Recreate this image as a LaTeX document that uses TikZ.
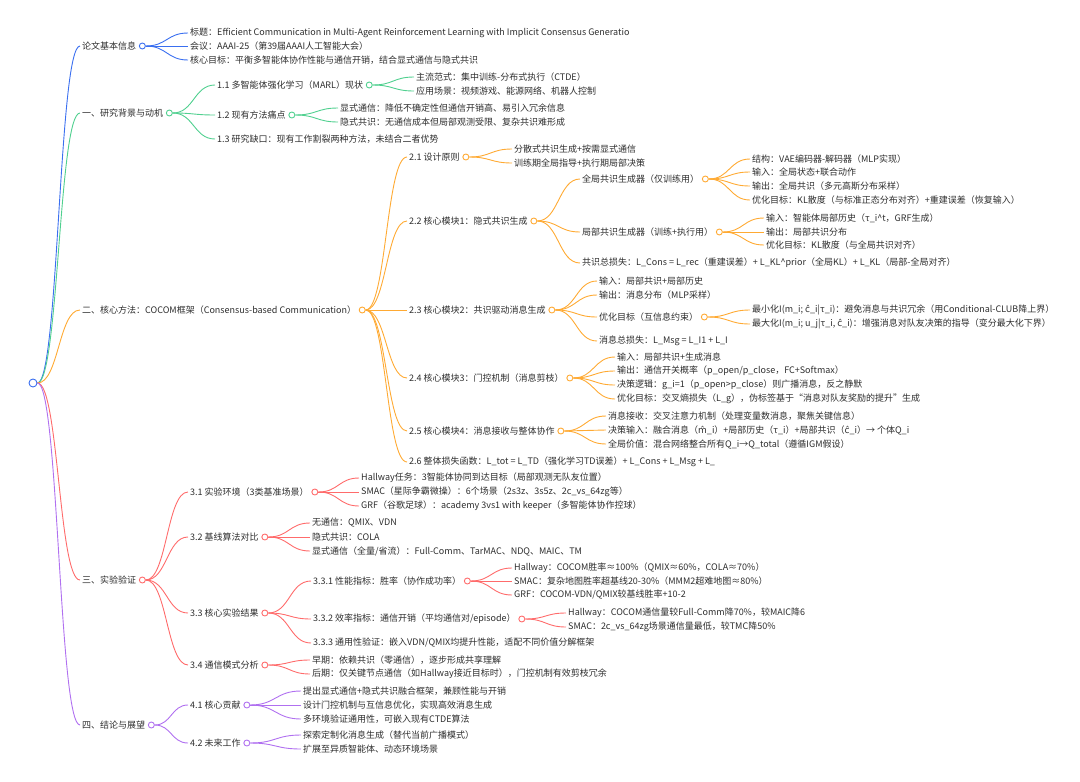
\documentclass[tikz,border=0pt]{standalone}
\usepackage{fontspec}
\setmainfont{Noto Sans CJK SC}
\newfontfamily\djv{DejaVu Sans}
\usepackage{tikz}
\usetikzlibrary{calc}
\usetikzlibrary{positioning}

\definecolor{mblue}{RGB}{58,111,240}
\definecolor{mgreen}{RGB}{80,208,143}
\definecolor{morange}{RGB}{255,170,51}
\definecolor{mred}{RGB}{255,107,107}
\definecolor{mpurple}{RGB}{176,112,240}
\definecolor{mtext}{RGB}{45,45,45}

\newcommand{\chat}{{\djv ĉ}}
\newcommand{\mhat}{{\djv m̂}}

\tikzset{
  txt/.style={anchor=west, inner xsep=2pt, inner ysep=1pt, text=mtext},
  dot/.style={circle, draw=#1, fill=white, minimum size=6pt, inner sep=0pt, line width=0.9pt},
  br/.style={to path={let \p1=(\tikztostart), \p2=(\tikztotarget) in
      .. controls ({(\x1+\x2)/2},\y1) and ({(\x1+\x2)/2},\y2) .. (\tikztotarget)}}
}

\begin{document}
\begin{tikzpicture}[x=1pt, y=-1pt, font=\fontsize{9}{11}\selectfont]

    \useasboundingbox (0,0) rectangle (1080,782);

    % root and first level
    \node[dot=mblue, minimum size=8pt] (r) at (33,383) {};
    \node[txt] (0) at (80,46) {论文基本信息};
    \node[txt] (1) at (80,113) {一、研究背景与动机};
    \node[txt] (2) at (80,310) {二、核心方法：COCOM框架（Consensus-based Communication）};
    \node[txt] (3) at (80,580) {三、实验验证};
    \node[txt] (4) at (80,725) {四、结论与展望};

    % paper info
    \node[dot=mblue] (d0) [right=0.5pt of 0] {};
    \node[txt] (01) at (188,33) {标题：Efficient Communication in Multi-Agent Reinforcement Learning with Implicit Consensus Generatio};
    \node[txt] (02) at (188,46) {会议：AAAI-25（第39届AAAI人工智能大会）};
    \node[txt] (03) at (188,60) {核心目标：平衡多智能体协作性能与通信开销，结合显式通信与隐式共识};

    % background
    \node[dot=mgreen] (d1) [right=0.5pt of 1] {};
    \node[txt] (11) at (215,85) {1.1 多智能体强化学习（MARL）现状};
    \node[dot=mgreen] (d11) [right=0.5pt of 11] {};
    \node[txt] (111) at (414,77) {主流范式：集中训练-分布式执行（CTDE）};
    \node[txt] (112) at (414,91) {应用场景：视频游戏、能源网络、机器人控制};
    \node[txt] (12) at (215,115) {1.2 现有方法痛点};
    \node[dot=mgreen] (d12) [right=0.5pt of 12] {};
    \node[txt] (121) at (338,108) {显式通信：降低不确定性但通信开销高、易引入冗余信息};
    \node[txt] (122) at (338,122) {隐式共识：无通信成本但局部观测受限、复杂共识难形成};
    \node[txt] (13) at (215,139) {1.3 研究缺口：现有工作割裂两种方法，未结合二者优势};

    % method
    \node[dot=morange] (d2) [right=0.5pt of 2] {};
    \node[txt] (21) at (407,157) {2.1 设计原则};
    \node[dot=morange] (d21) [right=0.5pt of 21] {};
    \node[txt] (211) at (512,149) {分散式共识生成+按需显式通信};
    \node[txt] (212) at (512,163) {训练期全局指导+执行期局部决策};
    \node[txt] (22) at (407,221) {2.2 核心模块1：隐式共识生成};
    \node[dot=morange] (d22) [right=0.5pt of 22] {};
    \node[txt] (221) at (580,179) {全局共识生成器（仅训练用）};
    \node[dot=morange] (d221) [right=0.5pt of 221] {};
    \node[txt] (2211) at (750,159) {结构：VAE编码器-解码器（MLP实现）};
    \node[txt] (2212) at (750,172) {输入：全局状态+联合动作};
    \node[txt] (2213) at (750,186) {输出：全局共识（多元高斯分布采样）};
    \node[txt] (2214) at (750,200) {优化目标：KL散度（与标准正态分布对齐）+重建误差（恢复输入）};
    \node[txt] (222) at (580,232) {局部共识生成器（训练+执行用）};
    \node[dot=morange] (d222) [right=0.5pt of 222] {};
    \node[txt] (2221) at (764,218) {输入：智能体局部历史（τ\_i\^{}t，GRF生成）};
    \node[txt] (2222) at (764,232) {输出：局部共识分布};
    \node[txt] (2223) at (764,245) {优化目标：KL散度（与全局共识对齐）};
    \node[txt] (223) at (580,263) {共识总损失：L\_Cons = L\_rec（重建误差）+ L\_KL\^{}prior（全局KL）+ L\_KL（局部-全局对齐）};
    \node[txt] (23) at (407,310) {2.3 核心模块2：共识驱动消息生成};
    \node[dot=morange] (d23) [right=0.5pt of 23] {};
    \node[txt] (231) at (597,281) {输入：局部共识+局部历史};
    \node[txt] (232) at (597,295) {输出：消息分布（MLP采样）};
    \node[txt] (233) at (597,317) {优化目标（互信息约束）};
    \node[dot=morange] (d233) [right=0.5pt of 233] {};
    \node[txt] (2331) at (750,310) {最小化I(m\_i; \chat\_i|τ\_i)：避免消息与共识冗余（用Conditional-CLUB降上界）};
    \node[txt] (2332) at (750,324) {最大化I(m\_i; u\_j|τ\_i, \chat\_i)：增强消息对队友决策的指导（变分最大化下界）};
    \node[txt] (234) at (597,341) {消息总损失：L\_Msg = L\_I1 + L\_I};
    \node[txt] (24) at (407,378) {2.4 核心模块3：门控机制（消息剪枝）};
    \node[dot=morange] (d24) [right=0.5pt of 24] {};
    \node[txt] (241) at (615,357) {输入：局部共识+生成消息};
    \node[txt] (242) at (615,371) {输出：通信开关概率（p\_open/p\_close，FC+Softmax）};
    \node[txt] (243) at (615,385) {决策逻辑：g\_i=1（p\_open>p\_close）则广播消息，反之静默};
    \node[txt] (244) at (615,399) {优化目标：交叉熵损失（L\_g），伪标签基于“消息对队友奖励的提升”生成};
    \node[txt] (25) at (407,431) {2.5 核心模块4：消息接收与整体协作};
    \node[dot=morange] (d25) [right=0.5pt of 25] {};
    \node[txt] (251) at (606,416) {消息接收：交叉注意力机制（处理变量数消息，聚焦关键信息）};
    \node[txt] (252) at (606,430) {决策输入：融合消息（\mhat\_i）+局部历史（τ\_i）+局部共识（\chat\_i）→ 个体Q\_i};
    \node[txt] (253) at (606,444) {全局价值：混合网络整合所有Q\_i→Q\_total（遵循IGM假设）};
    \node[txt] (26) at (407,462) {2.6 整体损失函数：L\_tot = L\_TD（强化学习TD误差）+ L\_Cons + L\_Msg + L\_};

    % experiments
    \node[dot=mred] (d3) [right=0.5pt of 3] {};
    \node[txt] (31) at (188,492) {3.1 实验环境（3类基准场景）};
    \node[dot=mred] (d31) [right=0.5pt of 31] {};
    \node[txt] (311) at (359,478) {Hallway任务：3智能体协同到达目标（局部观测无队友位置）};
    \node[txt] (312) at (359,492) {SMAC（星际争霸微操）：6个场景（2s3z、3s5z、2c\_vs\_64zg等）};
    \node[txt] (313) at (359,506) {GRF（谷歌足球）：academy 3vs1 with keeper（多智能体协作控球）};
    \node[txt] (32) at (188,537) {3.2 基线算法对比};
    \node[dot=mred] (d32) [right=0.5pt of 32] {};
    \node[txt] (321) at (310,523) {无通信：QMIX、VDN};
    \node[txt] (322) at (310,537) {隐式共识：COLA};
    \node[txt] (323) at (310,551) {显式通信（全量/省流）：Full-Comm、TarMAC、NDQ、MAIC、TM};
    \node[txt] (33) at (188,613) {3.3 核心实验结果};
    \node[dot=mred] (d33) [right=0.5pt of 33] {};
    \node[txt] (331) at (311,581) {3.3.1 性能指标：胜率（协作成功率）};
    \node[dot=mred] (d331) [right=0.5pt of 331] {};
    \node[txt] (3311) at (512,568) {Hallway：COCOM胜率≈100\%（QMIX≈60\%，COLA≈70\%）};
    \node[txt] (3312) at (512,581) {SMAC：复杂地图胜率超基线20-30\%（MMM2超难地图≈80\%）};
    \node[txt] (3313) at (512,595) {GRF：COCOM-VDN/QMIX较基线胜率+10-2};
    \node[txt] (332) at (311,619) {3.3.2 效率指标：通信开销（平均通信对/episode）};
    \node[dot=mred] (d332) [right=0.5pt of 332] {};
    \node[txt] (3321) at (566,613) {Hallway：COCOM通信量较Full-Comm降70\%，较MAIC降6};
    \node[txt] (3322) at (566,627) {SMAC：2c\_vs\_64zg场景通信量最低，较TMC降50\%};
    \node[txt] (333) at (311,643) {3.3.3 通用性验证：嵌入VDN/QMIX均提升性能，适配不同价值分解框架};
    \node[txt] (34) at (188,665) {3.4 通信模式分析};
    \node[dot=mred] (d34) [right=0.5pt of 34] {};
    \node[txt] (341) at (310,660) {早期：依赖共识（零通信），逐步形成共享理解};
    \node[txt] (342) at (310,674) {后期：仅关键节点通信（如Hallway接近目标时），门控机制有效剪枝冗余};

    % conclusion
    \node[dot=mpurple] (d4) [right=0.5pt of 4] {};
    \node[txt] (41) at (188,705) {4.1 核心贡献};
    \node[dot=mpurple] (d41) [right=0.5pt of 41] {};
    \node[txt] (411) at (301,691) {提出显式通信+隐式共识融合框架，兼顾性能与开销};
    \node[txt] (412) at (301,705) {设计门控机制与互信息优化，实现高效消息生成};
    \node[txt] (413) at (301,719) {多环境验证通用性，可嵌入现有CTDE算法};
    \node[txt] (42) at (188,743) {4.2 未来工作};
    \node[dot=mpurple] (d42) [right=0.5pt of 42] {};
    \node[txt] (421) at (301,735) {探索定制化消息生成（替代当前广播模式）};
    \node[txt] (422) at (301,749) {扩展至异质智能体、动态环境场景};

    \begin{scope}[line width=0.9pt, mblue]
        \draw (r.east) to[br] (0.west);
        \draw (d0.east) to[br] (01.west);
        \draw (d0.east) to[br] (02.west);
        \draw (d0.east) to[br] (03.west);
    \end{scope}

    \begin{scope}[line width=0.9pt, mgreen]
        \draw (r.east) to[br] (1.west);
        \draw (d1.east) to[br] (11.west);
        \draw (d1.east) to[br] (12.west);
        \draw (d1.east) to[br] (13.west);
        \draw (d11.east) to[br] (111.west);
        \draw (d11.east) to[br] (112.west);
        \draw (d12.east) to[br] (121.west);
        \draw (d12.east) to[br] (122.west);
    \end{scope}

    \begin{scope}[line width=0.9pt, morange]
        \draw (r.east) to[br] (2.west);
        \draw (d2.east) to[br] (21.west);
        \draw (d2.east) to[br] (22.west);
        \draw (d2.east) to[br] (23.west);
        \draw (d2.east) to[br] (24.west);
        \draw (d2.east) to[br] (25.west);
        \draw (d2.east) to[br] (26.west);
        \draw (d21.east) to[br] (211.west);
        \draw (d21.east) to[br] (212.west);
        \draw (d22.east) to[br] (221.west);
        \draw (d22.east) to[br] (222.west);
        \draw (d22.east) to[br] (223.west);
        \draw (d221.east) to[br] (2211.west);
        \draw (d221.east) to[br] (2212.west);
        \draw (d221.east) to[br] (2213.west);
        \draw (d221.east) to[br] (2214.west);
        \draw (d222.east) to[br] (2221.west);
        \draw (d222.east) to[br] (2222.west);
        \draw (d222.east) to[br] (2223.west);
        \draw (d23.east) to[br] (231.west);
        \draw (d23.east) to[br] (232.west);
        \draw (d23.east) to[br] (233.west);
        \draw (d23.east) to[br] (234.west);
        \draw (d233.east) to[br] (2331.west);
        \draw (d233.east) to[br] (2332.west);
        \draw (d24.east) to[br] (241.west);
        \draw (d24.east) to[br] (242.west);
        \draw (d24.east) to[br] (243.west);
        \draw (d24.east) to[br] (244.west);
        \draw (d25.east) to[br] (251.west);
        \draw (d25.east) to[br] (252.west);
        \draw (d25.east) to[br] (253.west);
    \end{scope}

    \begin{scope}[line width=0.9pt, mred]
        \draw (r.east) to[br] (3.west);
        \draw (d3.east) to[br] (31.west);
        \draw (d3.east) to[br] (32.west);
        \draw (d3.east) to[br] (33.west);
        \draw (d3.east) to[br] (34.west);
        \draw (d31.east) to[br] (311.west);
        \draw (d31.east) to[br] (312.west);
        \draw (d31.east) to[br] (313.west);
        \draw (d32.east) to[br] (321.west);
        \draw (d32.east) to[br] (322.west);
        \draw (d32.east) to[br] (323.west);
        \draw (d33.east) to[br] (331.west);
        \draw (d33.east) to[br] (332.west);
        \draw (d33.east) to[br] (333.west);
        \draw (d331.east) to[br] (3311.west);
        \draw (d331.east) to[br] (3312.west);
        \draw (d331.east) to[br] (3313.west);
        \draw (d332.east) to[br] (3321.west);
        \draw (d332.east) to[br] (3322.west);
        \draw (d34.east) to[br] (341.west);
        \draw (d34.east) to[br] (342.west);
    \end{scope}

    \begin{scope}[line width=0.9pt, mpurple]
        \draw (r.east) to[br] (4.west);
        \draw (d4.east) to[br] (41.west);
        \draw (d4.east) to[br] (42.west);
        \draw (d41.east) to[br] (411.west);
        \draw (d41.east) to[br] (412.west);
        \draw (d41.east) to[br] (413.west);
        \draw (d42.east) to[br] (421.west);
        \draw (d42.east) to[br] (422.west);
    \end{scope}

\end{tikzpicture}
\end{document}
